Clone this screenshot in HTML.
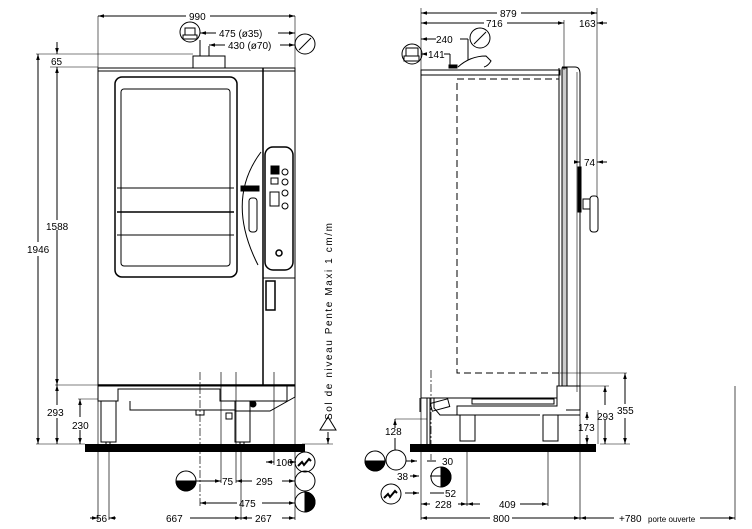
<!DOCTYPE html>
<html><head><meta charset="utf-8">
<style>
html,body{margin:0;padding:0;background:#fff;}
svg{display:block;}
text{font-family:"Liberation Sans",sans-serif;font-size:10px;fill:#000;}
</style></head><body>
<svg width="752" height="529" viewBox="0 0 752 529" xmlns="http://www.w3.org/2000/svg">
<defs>
<marker id="a" viewBox="0 0 10 10" refX="10" refY="5" markerWidth="6" markerHeight="6" orient="auto-start-reverse"><path d="M0,2 L10,5 L0,8z" fill="#000"/></marker>
</defs>
<g stroke="#000" fill="none" stroke-width="1">
<!-- ===== FRONT VIEW ===== -->
<rect x="98" y="68" width="197" height="318" />
<line x1="98" y1="71" x2="295" y2="71"/>
<rect x="193" y="56" width="32" height="12"/>
<line x1="200" y1="40" x2="200" y2="56"/>
<line x1="209" y1="46" x2="209" y2="56"/>
<rect x="115" y="77" width="122" height="200" rx="7" stroke-width="1.5"/>
<rect x="121" y="89" width="109" height="177" rx="3"/>
<line x1="117" y1="188" x2="234" y2="188"/>
<line x1="117" y1="212" x2="234" y2="212" stroke-width="1.5"/>
<line x1="117" y1="235" x2="234" y2="235"/>
<line x1="263" y1="68" x2="263" y2="386" stroke-width="1.5"/>
<path d="M261,152 Q225,200 258,265"/>
<rect x="265" y="147" width="28" height="123" rx="8" stroke-width="1.5"/>
<rect x="249" y="198" width="8" height="34" rx="3"/>
<rect x="241" y="186" width="18" height="5" fill="#000"/>
<rect x="266" y="281" width="9" height="29" stroke-width="1.5"/>
<circle cx="279" cy="253" r="3" stroke-width="1.5"/>
<circle cx="285" cy="172" r="3"/><circle cx="285" cy="182" r="3"/><circle cx="285" cy="193" r="3"/><circle cx="285" cy="206" r="3"/>
<rect x="271" y="166" width="8" height="8" fill="#000"/>
<rect x="271" y="178" width="7" height="6"/>
<rect x="270" y="192" width="9" height="14"/>
<line x1="263" y1="278" x2="295" y2="278"/>
<!-- base -->
<line x1="98" y1="385" x2="295" y2="385" stroke-width="1.5"/>
<path d="M98,386 V401 H118 V389 H220 V401 H287 V386"/>
<path d="M98,401 H118 M130,401 V410 H235 V401 M287,386 L295,386 V397 L270,411 H235"/>
<rect x="101" y="401" width="15" height="41"/>
<rect x="235" y="401" width="15" height="41"/>
<circle cx="253" cy="404" r="3" fill="#000"/>
<rect x="196" y="410" width="8" height="5"/>
<rect x="226" y="413" width="6" height="6"/>
<line x1="106" y1="442" x2="106" y2="446"/><line x1="110" y1="442" x2="110" y2="446"/>
<line x1="240" y1="442" x2="240" y2="446"/><line x1="244" y1="442" x2="244" y2="446"/>
<!-- dims front -->
<line x1="98" y1="16" x2="98" y2="68" stroke-width=".6"/>
<line x1="295" y1="16" x2="295" y2="68" stroke-width=".6"/>
<line x1="98" y1="16" x2="186" y2="16" marker-start="url(#a)"/>
<line x1="210" y1="16" x2="295" y2="16" marker-end="url(#a)"/>
<line x1="200" y1="33" x2="216" y2="33" marker-start="url(#a)"/>
<line x1="278" y1="33" x2="295" y2="33" marker-end="url(#a)"/>
<line x1="209" y1="45" x2="225" y2="45" marker-start="url(#a)"/>
<line x1="280" y1="45" x2="295" y2="45" marker-end="url(#a)"/>
<line x1="36" y1="54" x2="193" y2="54" stroke-width=".6"/>
<line x1="50" y1="67" x2="98" y2="67" stroke-width=".6"/>
<line x1="57" y1="42" x2="57" y2="54" marker-end="url(#a)"/>
<line x1="57" y1="67" x2="57" y2="220" marker-start="url(#a)"/>
<line x1="57" y1="230" x2="57" y2="385" marker-end="url(#a)"/>
<line x1="38" y1="54" x2="38" y2="242" marker-start="url(#a)"/>
<line x1="38" y1="256" x2="38" y2="444" marker-end="url(#a)"/>
<line x1="55" y1="385" x2="98" y2="385" stroke-width=".6"/>
<line x1="57" y1="385" x2="57" y2="405" marker-start="url(#a)"/>
<line x1="57" y1="418" x2="57" y2="444" marker-end="url(#a)"/>
<line x1="78" y1="399" x2="98" y2="399" stroke-width=".6"/>
<line x1="80" y1="399" x2="80" y2="417" marker-start="url(#a)"/>
<line x1="80" y1="430" x2="80" y2="444" marker-end="url(#a)"/>
<line x1="36" y1="444" x2="85" y2="444" stroke-width=".6"/>
<rect x="85" y="444" width="220" height="8" fill="#000" stroke="none"/>
<line x1="200" y1="372" x2="200" y2="506" stroke-dasharray="8,2,2,2" stroke-width=".7"/>
<line x1="221" y1="372" x2="221" y2="483" stroke-width=".7"/>
<line x1="236" y1="372" x2="236" y2="483" stroke-width=".7"/>
<line x1="274" y1="372" x2="274" y2="465" stroke-width=".7"/>
<line x1="295" y1="386" x2="295" y2="520" stroke-width=".7"/>
<line x1="98" y1="386" x2="98" y2="520" stroke-width=".7"/>
<line x1="109" y1="446" x2="109" y2="520" stroke-width=".7"/>
<line x1="241" y1="446" x2="241" y2="520" stroke-width=".7"/>
<line x1="266" y1="462" x2="274" y2="462" marker-start="url(#a)"/>
<line x1="288" y1="462" x2="296" y2="462" marker-end="url(#a)"/>
<line x1="196" y1="481" x2="221" y2="481" marker-end="url(#a)"/>
<line x1="236" y1="481" x2="252" y2="481" marker-start="url(#a)"/>
<line x1="282" y1="481" x2="295" y2="481" marker-end="url(#a)"/>
<line x1="200" y1="503" x2="237" y2="503" marker-start="url(#a)"/>
<line x1="262" y1="503" x2="295" y2="503" marker-end="url(#a)"/>
<line x1="90" y1="518" x2="98" y2="518" marker-end="url(#a)"/>
<line x1="109" y1="518" x2="116" y2="518" marker-start="url(#a)"/>
<line x1="190" y1="518" x2="241" y2="518" marker-end="url(#a)"/>
<line x1="241" y1="518" x2="252" y2="518" marker-start="url(#a)"/>
<line x1="282" y1="518" x2="295" y2="518" marker-end="url(#a)"/>
<line x1="302" y1="444" x2="333" y2="444" stroke-width=".6"/>
<line x1="328" y1="432" x2="328" y2="444" marker-end="url(#a)"/>
<circle cx="190" cy="32" r="10"/>
<rect x="185" y="28" width="10" height="7"/><rect x="183" y="35" width="14" height="4"/>
<circle cx="305" cy="44" r="10"/><line x1="299" y1="50" x2="311" y2="38"/>
<circle cx="186" cy="481" r="10"/>
<path d="M176,481 A10,10 0 0 0 196,481 Z" fill="#000"/>
<circle cx="305" cy="462" r="10"/>
<path d="M298,466 l4,-4 l2,3 l5,-6 l2,2" stroke-width="2"/>
<circle cx="305" cy="481" r="10"/>
<circle cx="305" cy="502" r="10"/>
<path d="M305,492 A10,10 0 0 1 305,512 Z" fill="#000"/>
<path d="M320,430 L328,417 L336,430 Z" fill="none"/>

<!-- ===== SIDE VIEW ===== -->
<rect x="421" y="70" width="139" height="5"/>
<line x1="421" y1="70" x2="421" y2="398"/>
<line x1="421" y1="75" x2="560" y2="75"/>
<rect x="457" y="79" width="102" height="294" stroke-dasharray="7,4"/>
<line x1="559" y1="68" x2="559" y2="386"/>
<line x1="562" y1="68" x2="562" y2="386"/>
<rect x="562" y="68" width="5" height="318" fill="#ccc"/>
<path d="M562,67 H575 Q580,67 580,74 V392"/>
<line x1="577" y1="72" x2="577" y2="392" stroke-width=".6"/>
<path d="M458,67 Q470,56 486,56 L491,61 Q488,66 484,67" />
<rect x="449" y="65" width="8" height="3" fill="#000"/>
<rect x="590" y="196" width="8" height="36" rx="3"/>
<rect x="583" y="199" width="7" height="10"/>
<rect x="578" y="167" width="3" height="45" fill="#000"/>
<path d="M421,398 H557 V386 H580 V410 L566,410 M420,398 V412 M434,398 V408 L440,415 H457 V406 H557 V398"/>
<path d="M457,406 V415 H463 M475,415 H540 M552,415 H580"/>
<rect x="460" y="415" width="15" height="26"/>
<rect x="543" y="415" width="15" height="26"/>
<rect x="472" y="399" width="82" height="5"/>
<rect x="431" y="401" width="18" height="8" transform="rotate(-15 440 405)"/>
<line x1="427" y1="398" x2="427" y2="450"/>
<line x1="430" y1="398" x2="430" y2="450"/>
<line x1="431" y1="370" x2="431" y2="460" stroke-dasharray="8,2,2,2" stroke-width=".7"/>
<rect x="410" y="444" width="186" height="8" fill="#000" stroke="none"/>
<line x1="421" y1="8" x2="421" y2="70" stroke-width=".6"/>
<line x1="597" y1="8" x2="597" y2="197" stroke-width=".6"/>
<line x1="564" y1="20" x2="564" y2="70" stroke-width=".6"/>
<line x1="421" y1="13" x2="497" y2="13" marker-start="url(#a)"/>
<line x1="521" y1="13" x2="597" y2="13" marker-end="url(#a)"/>
<line x1="421" y1="23" x2="484" y2="23" marker-start="url(#a)"/>
<line x1="507" y1="23" x2="564" y2="23" marker-end="url(#a)"/>
<line x1="597" y1="23" x2="607" y2="23" marker-start="url(#a)"/>
<line x1="421" y1="39" x2="436" y2="39" marker-start="url(#a)"/>
<line x1="460" y1="39" x2="468" y2="39"/>
<line x1="468" y1="39" x2="468" y2="60"/>
<line x1="421" y1="54" x2="427" y2="54" marker-start="url(#a)"/>
<line x1="444" y1="54" x2="450" y2="54"/><line x1="450" y1="54" x2="450" y2="65"/>
<line x1="574" y1="162" x2="580" y2="162" marker-end="url(#a)"/>
<line x1="597" y1="162" x2="607" y2="162" marker-start="url(#a)"/>
<line x1="560" y1="373" x2="627" y2="373" stroke-width=".6"/>
<line x1="580" y1="386" x2="609" y2="386" stroke-width=".6"/>
<line x1="598" y1="410" x2="598" y2="444" stroke-width=".6"/>
<line x1="600" y1="444" x2="630" y2="444" stroke-width=".6"/>
<line x1="625" y1="373" x2="625" y2="404" marker-start="url(#a)"/>
<line x1="625" y1="418" x2="625" y2="444" marker-end="url(#a)"/>
<line x1="605" y1="386" x2="605" y2="405" marker-start="url(#a)"/>
<line x1="605" y1="420" x2="605" y2="444" marker-end="url(#a)"/>
<line x1="587" y1="412" x2="587" y2="420" marker-start="url(#a)"/>
<line x1="587" y1="435" x2="587" y2="444" marker-end="url(#a)"/>
<line x1="395" y1="419" x2="427" y2="419" stroke-width=".6"/>
<line x1="395" y1="419" x2="395" y2="428" marker-start="url(#a)"/>
<line x1="395" y1="438" x2="395" y2="450"/>
<line x1="421" y1="398" x2="421" y2="520" stroke-width=".7"/>
<line x1="467" y1="452" x2="467" y2="506" stroke-width=".7"/>
<line x1="548" y1="452" x2="548" y2="506" stroke-width=".7"/>
<line x1="580" y1="392" x2="580" y2="520" stroke-width=".7"/>
<line x1="735" y1="386" x2="735" y2="520" stroke-width=".7"/>
<line x1="406" y1="461" x2="417" y2="461" marker-end="url(#a)"/>
<line x1="427" y1="461" x2="436" y2="461"/>
<line x1="410" y1="476" x2="419" y2="476" marker-end="url(#a)"/>
<line x1="430" y1="476" x2="441" y2="476"/>
<line x1="405" y1="493" x2="419" y2="493" marker-end="url(#a)"/>
<line x1="430" y1="493" x2="444" y2="493"/>
<line x1="421" y1="504" x2="430" y2="504" marker-start="url(#a)"/>
<line x1="458" y1="504" x2="467" y2="504" marker-end="url(#a)"/>
<line x1="467" y1="504" x2="480" y2="504" marker-start="url(#a)"/>
<line x1="520" y1="504" x2="548" y2="504" marker-end="url(#a)"/>
<line x1="421" y1="518" x2="490" y2="518" marker-start="url(#a)"/>
<line x1="512" y1="518" x2="580" y2="518" marker-end="url(#a)"/>
<line x1="580" y1="518" x2="614" y2="518" marker-start="url(#a)"/>
<line x1="700" y1="518" x2="735" y2="518" marker-end="url(#a)"/>
<circle cx="412" cy="54" r="10"/>
<rect x="406" y="48" width="12" height="8"/><rect x="404" y="56" width="15" height="5"/>
<circle cx="480" cy="38" r="10"/><line x1="474" y1="44" x2="486" y2="32"/>
<circle cx="375" cy="461" r="10"/>
<path d="M365,461 A10,10 0 0 0 385,461 Z" fill="#000"/>
<circle cx="396" cy="460" r="10"/>
<circle cx="441" cy="477" r="10"/>
<path d="M441,467 A10,10 0 0 1 441,487 Z" fill="#000"/>
<circle cx="391" cy="494" r="10"/>
<path d="M384,498 l4,-4 l2,3 l5,-6 l2,2" stroke-width="2"/>
</g>
<text x="189" y="20">990</text>
<text x="219" y="37">475 (ø35)</text>
<text x="228" y="49">430 (ø70)</text>
<text x="51" y="65">65</text>
<text x="46" y="230">1588</text>
<text x="27" y="253">1946</text>
<text x="47" y="416">293</text>
<text x="72" y="429">230</text>
<text x="276" y="466">106</text>
<text x="222" y="485">75</text>
<text x="256" y="485">295</text>
<text x="239" y="507">475</text>
<text x="96" y="522">56</text>
<text x="166" y="522">667</text>
<text x="255" y="522">267</text>
<text transform="translate(332,420) rotate(-90)" style="font-size:10px;letter-spacing:1.6px">Sol de niveau Pente Maxi 1 cm/m</text>
<text x="500" y="17">879</text>
<text x="486" y="27">716</text>
<text x="579" y="27">163</text>
<text x="436" y="43">240</text>
<text x="428" y="58">141</text>
<text x="584" y="166">74</text>
<text x="597" y="420">293</text>
<text x="617" y="414">355</text>
<text x="578" y="431">173</text>
<text x="385" y="435">128</text>
<text x="442" y="465">30</text>
<text x="397" y="480">38</text>
<text x="445" y="497">52</text>
<text x="435" y="508">228</text>
<text x="499" y="508">409</text>
<text x="493" y="522">800</text>
<text x="619" y="522">+780</text>
<text x="648" y="522" style="font-size:8px">porte ouverte</text>
</svg>
</body></html>
